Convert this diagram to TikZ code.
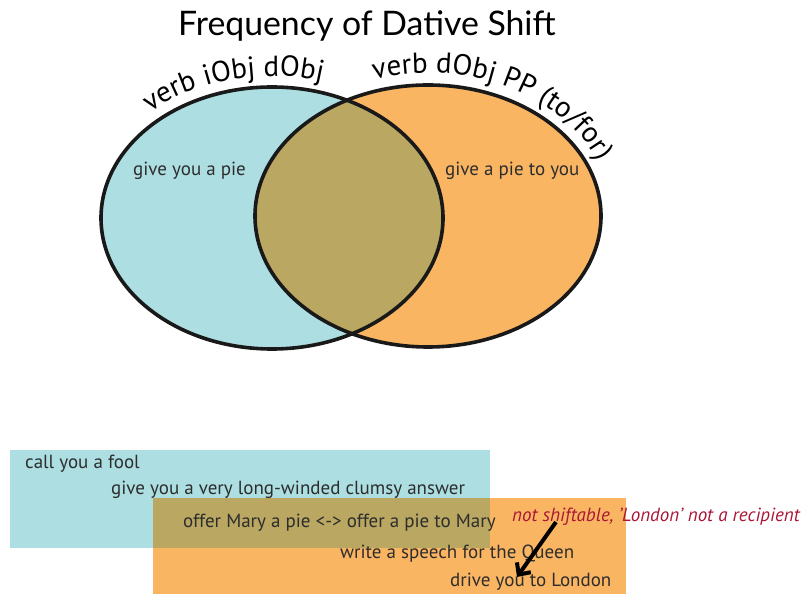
\documentclass[tikz,border=0pt]{standalone}
\usepackage{fontspec}
\setmainfont{PT Sans}
\newfontfamily\titlefont{Lato}
\usetikzlibrary{decorations.text,arrows.meta}
\definecolor{vblue}{RGB}{173,222,226}
\definecolor{vorange}{RGB}{249,181,98}
\definecolor{vmix}{RGB}{185,167,98}
\definecolor{vred}{RGB}{170,22,55}
\definecolor{vtext}{RGB}{45,45,45}
\tikzset{
  lbl/.style={anchor=base west,inner sep=0pt,text=vtext,font=\fontsize{19}{19}\selectfont},
  ring/.style={line width=3.6pt,draw=black!90},
}
\begin{document}
\begin{tikzpicture}[x=1pt,y=1pt]
\useasboundingbox (0,0) rectangle (801,594);
\fill[white] (0,0) rectangle (801,594);
% title
\node[anchor=base west,inner sep=0pt,font=\titlefont\fontsize{33.8}{34}\selectfont] (title) at (178,558) {Frequency of Dative Shift};
% venn
\fill[vblue] (272,376) ellipse [x radius=171,y radius=131];
\fill[vorange] (428,378) ellipse [x radius=173,y radius=131];
\begin{scope}
\clip (272,376) ellipse [x radius=171,y radius=131];
\fill[vmix] (428,378) ellipse [x radius=173,y radius=131];
\end{scope}
\draw[ring] (272,376) ellipse [x radius=171,y radius=131];
\draw[ring] (428,378) ellipse [x radius=173,y radius=131];
\path[decorate,decoration={text along path,text align=left,
  text={|\fontsize{29}{29}\selectfont|verb iObj dObj}}]
  (272,376) ++(132:182 and 142) arc[start angle=132,end angle=30,x radius=182,y radius=142];
\path[decorate,decoration={text along path,text align=left,
  text={|\fontsize{29}{29}\selectfont|verb dObj PP (to/for)}}]
  (428,378) ++(107:184 and 143) arc[start angle=107,end angle=-30,x radius=184,y radius=143];
\node[lbl] (la) at (133,418) {give you a pie};
\node[lbl] (ra) at (445,418) {give a pie to you};
% bottom boxes
\fill[vblue] (10,46) rectangle (490,144);
\fill[vorange] (153,0) rectangle (626,96);
\fill[vmix] (153,46) rectangle (490,96);
\node[lbl] (b1) at (25,125) {call you a fool};
\node[lbl] (b2) at (111,99) {give you a very long-winded clumsy answer};
\node[lbl] (b3) at (183,66) {offer Mary a pie <-> offer a pie to Mary};
\node[lbl] (b4) at (340,35) {write a speech for the Queen};
\node[lbl] (b5) at (450,7) {drive you to London};
\node[lbl,text=vred,font=\itshape\fontsize{19}{19}\selectfont] (note) at (512,72) {not shiftable, ’London’ not a recipient};
\coordinate (as) at (556,72);
\coordinate (ae) at (517,17);
\draw[line width=4pt,-{Straight Barb[length=9pt,width=17pt,line width=4pt]}] (as) -- (ae);
\end{tikzpicture}
\end{document}
